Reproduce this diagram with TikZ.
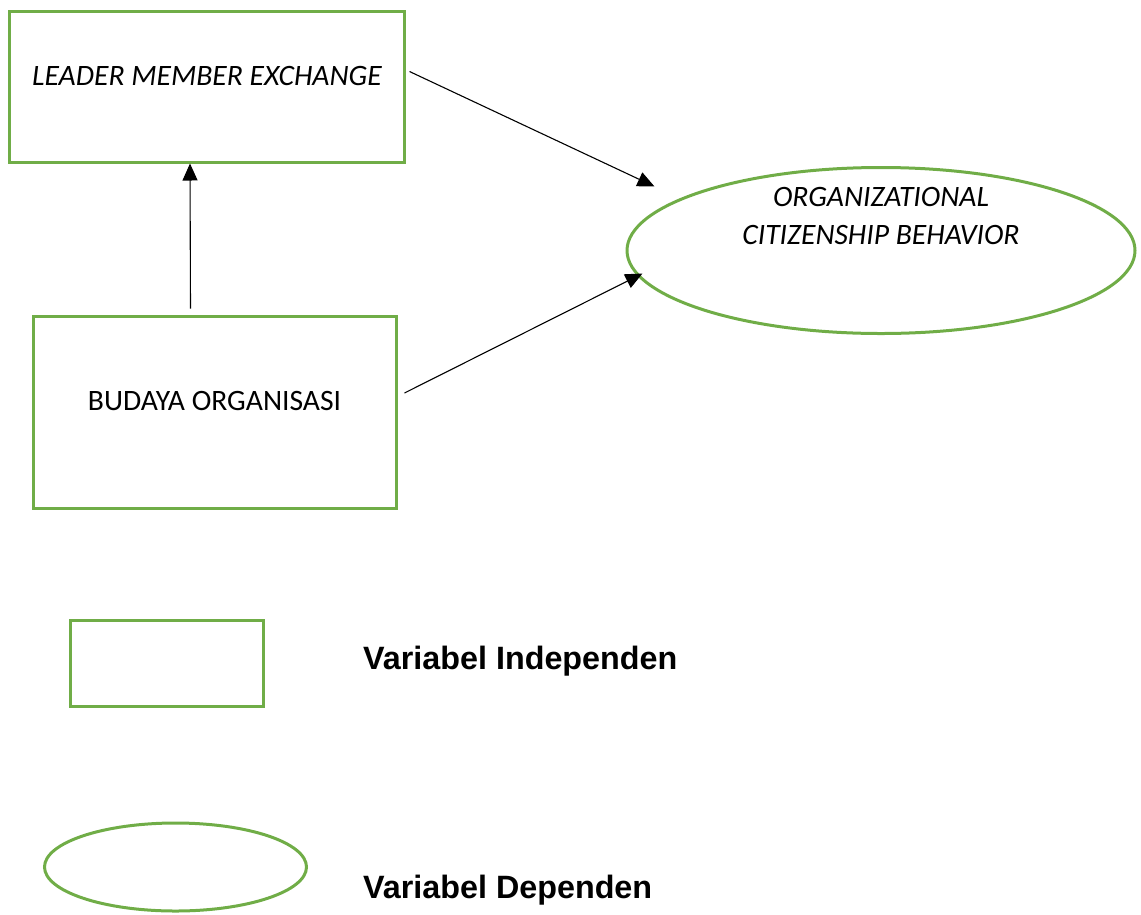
\documentclass[tikz,border=0pt]{standalone}
\usepackage{fontspec}
\setmainfont{Carlito}
\newfontfamily\arialfont{Liberation Sans}
\usetikzlibrary{arrows.meta,shapes.geometric}
\definecolor{boxgreen}{HTML}{70AD47}
\tikzset{
  varbox/.style={draw=boxgreen,line width=3pt,rectangle,inner sep=0pt},
  varell/.style={draw=boxgreen,line width=3pt,ellipse,inner sep=0pt},
  lbl/.style={font=\fontsize{29.6}{38}\selectfont,align=center,inner sep=0pt},
  ilbl/.style={lbl,font=\fontsize{29.6}{38}\selectfont\itshape},
  leg/.style={font=\arialfont\bfseries\fontsize{32.3}{36}\selectfont,inner sep=0pt,anchor=west},
  arr/.style={draw=black,line width=1.1pt,-{Triangle[length=17pt,width=15pt]}}
}
\begin{document}
\begin{tikzpicture}[x=1pt,y=-1pt]
\useasboundingbox (0,0) rectangle (1141,914);
% main nodes
\node[varbox,minimum width=395pt,minimum height=151pt] (lmx) at (206.5,86.5) {};
\node[ilbl] (lmxt) at (207,76) {LEADER MEMBER EXCHANGE};
\node[varbox,minimum width=363pt,minimum height=192pt] (bud) at (214.5,412) {};
\node[lbl] (budt) at (214.5,401) {BUDAYA ORGANISASI};
\node[varell,minimum width=508pt,minimum height=166pt] (ocb) at (881,250.5) {};
\node[ilbl] (ocbt) at (881,216) {ORGANIZATIONAL\\CITIZENSHIP BEHAVIOR};
% connectors
\draw[arr] ([xshift=4pt,yshift=15pt]lmx.east) -- ([xshift=29pt,yshift=64pt]ocb.west);
\draw[arr] ([xshift=7pt,yshift=19pt]bud.east) -- ([xshift=17pt,yshift=-23pt]ocb.west);
\draw[arr] ([xshift=-24pt,yshift=6pt]bud.north) -- ([xshift=-16.5pt]lmx.south);
% legend
\node[varbox,minimum width=193pt,minimum height=86pt] (legbox) at (166.5,663) {};
\node[leg] (legboxt) at (363,661) {Variabel Independen};
\node[varell,minimum width=262pt,minimum height=88pt] (legell) at (175.5,867) {};
\node[leg] (legellt) at (363,890) {Variabel Dependen};
\end{tikzpicture}
\end{document}
